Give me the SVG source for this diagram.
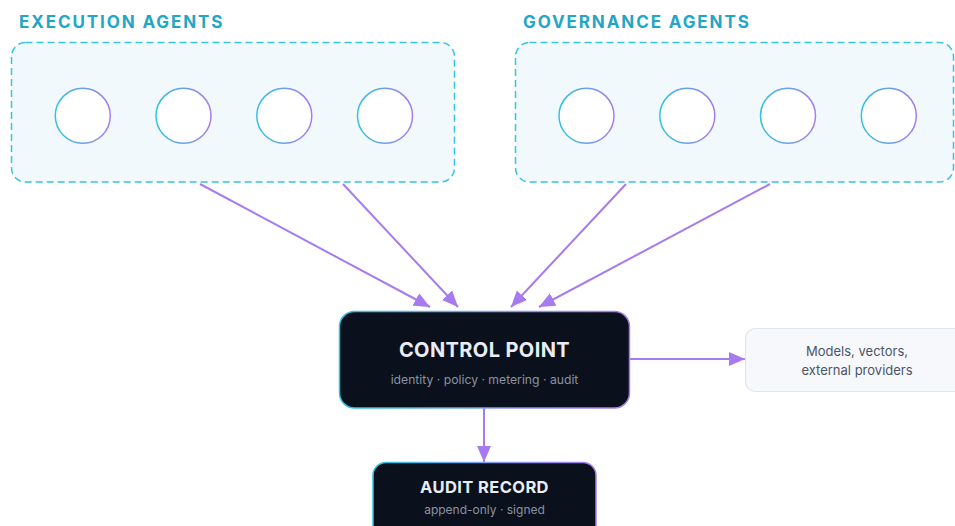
<svg xmlns="http://www.w3.org/2000/svg" width="955" height="526" viewBox="0 0 955 526">
  <defs>
    <linearGradient id="ring" x1="0" y1="0" x2="1" y2="0">
      <stop offset="0" stop-color="#2ec4e2"/>
      <stop offset="1" stop-color="#a77bf0"/>
    </linearGradient>
    <linearGradient id="edge" x1="0" y1="0" x2="1" y2="0">
      <stop offset="0" stop-color="#2ec4e2"/>
      <stop offset="0.5" stop-color="#7fa0ee"/>
      <stop offset="1" stop-color="#a77bf0"/>
    </linearGradient>
    <marker id="ah" markerUnits="userSpaceOnUse" markerWidth="18" markerHeight="14" refX="16" refY="7" orient="auto">
      <path d="M0,0 L16,7 L0,14 Z" fill="#a77bf0"/>
    </marker>
  </defs>
  <style>
    .title{font-family:Inter,"Liberation Sans",sans-serif;font-weight:700;font-size:17px;letter-spacing:1.9px;fill:#22a6c7}
    .group{fill:#f1f9fc;stroke:#34c5e2;stroke-width:1.5;stroke-dasharray:7 4}
    .agent{fill:#ffffff;stroke:url(#ring);stroke-width:1.5}
    .dark{fill:#0b111c;stroke:url(#edge);stroke-width:1.5}
    .head{font-family:Inter,"Liberation Sans",sans-serif;font-weight:700;fill:#e8ecf4;text-anchor:middle}
    .sub{font-family:Inter,"Liberation Sans",sans-serif;fill:#8a92a3;text-anchor:middle}
    .ext{fill:#f7f8fc;stroke:#e1e5ee;stroke-width:1.2}
    .extt{font-family:Inter,"Liberation Sans",sans-serif;font-size:13px;fill:#4b5567;text-anchor:middle}
    .conn{stroke:#a77bf0;stroke-width:2;fill:none;marker-end:url(#ah)}
  </style>
  <rect width="955" height="526" fill="#ffffff"/>

  <g id="execution-agents">
    <text class="title" x="19" y="28">EXECUTION AGENTS</text>
    <rect class="group" x="11.5" y="42.5" width="443" height="139.5" rx="14"/>
    <circle class="agent" cx="82.8" cy="115.8" r="27.5"/>
    <circle class="agent" cx="183.5" cy="115.8" r="27.5"/>
    <circle class="agent" cx="284.3" cy="115.8" r="27.5"/>
    <circle class="agent" cx="385" cy="115.8" r="27.5"/>
  </g>

  <g id="governance-agents">
    <text class="title" x="523" y="28">GOVERNANCE AGENTS</text>
    <rect class="group" x="515.5" y="42.5" width="438" height="139.5" rx="14"/>
    <circle class="agent" cx="586.5" cy="115.8" r="27.5"/>
    <circle class="agent" cx="687.3" cy="115.8" r="27.5"/>
    <circle class="agent" cx="788" cy="115.8" r="27.5"/>
    <circle class="agent" cx="888.8" cy="115.8" r="27.5"/>
  </g>

  <g id="connectors">
    <line class="conn" x1="200" y1="184" x2="430" y2="307"/>
    <line class="conn" x1="343" y1="184" x2="458" y2="307"/>
    <line class="conn" x1="626" y1="184" x2="511" y2="307"/>
    <line class="conn" x1="770" y1="184" x2="539" y2="307"/>
    <line class="conn" x1="630" y1="359" x2="745" y2="359"/>
    <line class="conn" x1="484" y1="408" x2="484" y2="462"/>
  </g>

  <g id="control-point">
    <rect class="dark" x="339.5" y="311.5" width="290" height="96.5" rx="15"/>
    <text class="head" x="484.5" y="357" font-size="20" letter-spacing="0.4">CONTROL POINT</text>
    <text class="sub" x="484.5" y="384" font-size="12.2">identity · policy · metering · audit</text>
  </g>

  <g id="audit-record">
    <rect class="dark" x="373" y="462.5" width="223" height="80" rx="13"/>
    <text class="head" x="484.5" y="493" font-size="16.5" letter-spacing="0.4">AUDIT RECORD</text>
    <text class="sub" x="484.5" y="514" font-size="12">append-only · signed</text>
  </g>

  <g id="external-providers">
    <rect class="ext" x="745.5" y="328.5" width="230" height="63" rx="10"/>
    <text class="extt" x="857" y="356">Models, vectors,</text>
    <text class="extt" x="857" y="375">external providers</text>
  </g>
</svg>
